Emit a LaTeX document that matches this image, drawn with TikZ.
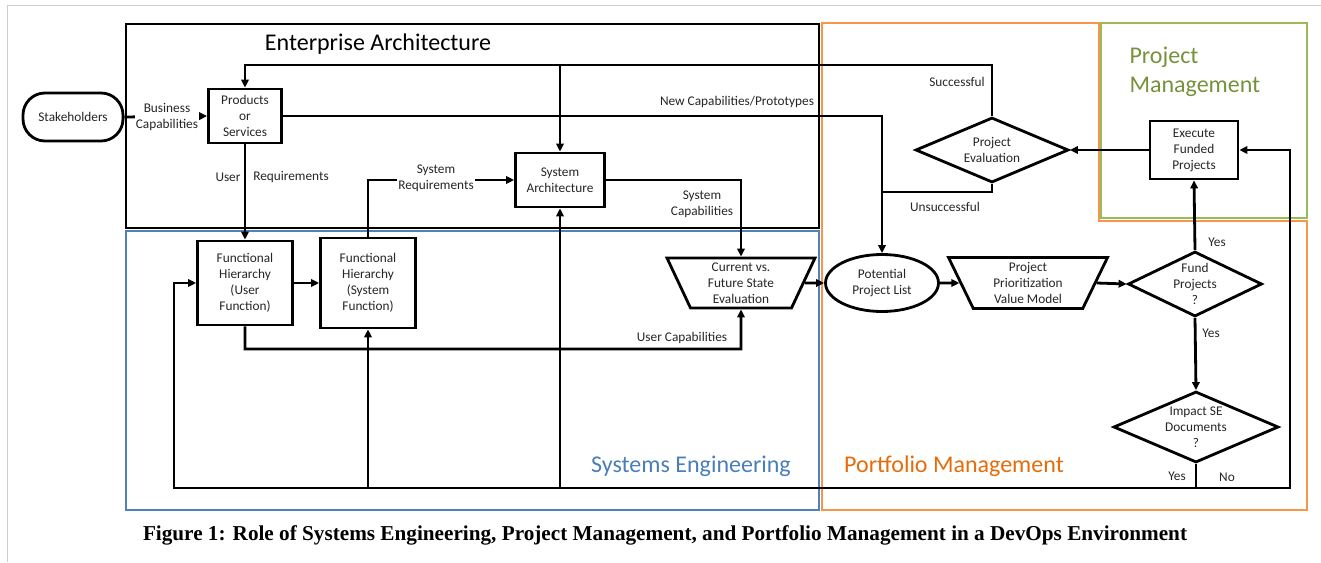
\documentclass[tikz,border=0pt]{standalone}
\usepackage{fontspec}
\setmainfont{Carlito}
\newfontfamily\capfont{Liberation Serif}
\usetikzlibrary{shapes.geometric,arrows.meta}
\definecolor{seblue}{HTML}{4F81BD}
\definecolor{pforange}{HTML}{F79646}
\definecolor{pmgreen}{HTML}{9BBB59}
\definecolor{setext}{HTML}{4A7EBB}
\definecolor{pftext}{HTML}{E46C0A}
\definecolor{pmtext}{HTML}{76923C}
\begin{document}
\begin{tikzpicture}[x=1pt, y=-1pt,
  txt/.style={font=\fontsize{13.3}{16}\selectfont, text=black!85, align=center},
  box/.style={txt, draw, line width=2.8pt, fill=white, inner sep=0pt},
  decision/.style={box, diamond},
  evalbox/.style={box, trapezium, trapezium stretches body, shape border rotate=180},
  flow/.style={line width=2.8pt, -{Triangle[length=8pt,width=7.5pt]}},
  link/.style={line width=2.8pt},
  area/.style={line width=2.8pt},
  areatitle/.style={font=\fontsize{24}{29}\selectfont, align=left}]
\useasboundingbox (0,0) rectangle (1321,562);
\draw[black!20, line width=1pt] (7,562) -- (7,5) -- (1321,5);

% areas
\draw[area] (126,24) rectangle (819,228);
\draw[area, seblue] (126,231) rectangle (819,510);
\draw[area, pforange] (822,23) -- (1099,23) -- (1099,221) -- (1307,221) -- (1307,510) -- (822,510) -- cycle;
\draw[area, pmgreen] (1101,23) rectangle (1307,218);

\node[areatitle, anchor=base] (eatitle) at (378,50) {Enterprise Architecture};
\node[areatitle, text=setext, anchor=base] (setitle) at (691,472) {Systems Engineering};
\node[areatitle, text=pftext, anchor=base] (pftitle) at (954,472) {Portfolio Management};
\node[areatitle, text=pmtext, anchor=west] (pmtitle) at (1126,72) {Project\\Management};

% blocks
\node[box, rounded corners=22pt, minimum width=100pt, minimum height=48pt] (stake) at (73,117) {Stakeholders};
\node[box, minimum width=73pt, minimum height=54pt] (prod) at (245,116) {Products\\or\\Services};
\node[box, minimum width=89pt, minimum height=54pt] (sysarch) at (560,180) {System\\Architecture};
\node[box, minimum width=95pt, minimum height=84pt] (fhu) at (245,283) {Functional\\Hierarchy\\(User\\Function)};
\node[box, minimum width=95pt, minimum height=90pt] (fhs) at (368,283) {Functional\\Hierarchy\\(System\\Function)};
\node[evalbox, trapezium angle=60, minimum width=148pt, minimum height=50pt] (cur) at (741,283) {Current vs.\\Future State\\Evaluation};
\node[box, ellipse, minimum width=113pt, minimum height=57pt] (ppl) at (882,283) {Potential\\Project List};
\node[evalbox, trapezium angle=59, minimum width=159pt, minimum height=51pt] (ppv) at (1028,283) {Project\\Prioritization\\Value Model};
\node[decision, aspect=2.06, minimum width=134pt, minimum height=65pt] (fund) at (1195,284) {Fund\\Projects\\?};
\node[box, minimum width=88pt, minimum height=58pt] (exec) at (1194,150) {Execute\\Funded\\Projects};
\node[decision, aspect=2.35, minimum width=153pt, minimum height=65pt] (peval) at (992,150) {Project\\Evaluation};
\node[decision, aspect=2.32, minimum width=165pt, minimum height=71pt] (impact) at (1196,427) {Impact SE\\Documents\\?};

\coordinate (toploop) at (992,65);
\coordinate (unsucc) at (882,192);
\coordinate (ucap) at (741,349);
\coordinate (fork) at (1196,488);
\coordinate (ret) at (174,488);
\coordinate (nocorner) at (1290,488);

% connectors
\draw[flow] (stake.east) -- (prod.west);
\draw[flow] (peval.north) -- (toploop) -| (prod.north);
\draw[flow] (sysarch.north |- toploop) -- (sysarch.north);
\draw[flow] (prod.east) -| (ppl.north);
\draw[link] (peval.south) |- (unsucc);
\draw[flow] (prod.south) -- (fhu.north);
\draw[flow] (fhu.east) -- (fhs.west);
\draw[flow] (fhs.north) |- (sysarch.west);
\draw[flow] (sysarch.east) -| (cur.north);
\draw[flow] (fhu.south) |- (ucap) -- (cur.south);
\draw[flow] (cur.east) -- (ppl.west);
\draw[flow] (ppl.east) -- (ppv.west);
\draw[flow] (ppv.east) -- (fund.west);
\draw[flow] (fund.north) -- (exec.south);
\draw[flow] (exec.west) -- (peval.east);
\draw[flow] (fund.south) -- (impact.north);
\draw[link] (impact.south) -- (fork);
\draw[flow] (fork) -- (ret) |- (fhu.west);
\draw[flow] (fhs.south |- ret) -- (fhs.south);
\draw[flow] (sysarch.south |- ret) -- (sysarch.south);
\draw[flow] (fork) -- (nocorner) |- (exec.east);

% labels
\node[txt, fill=white, inner sep=1pt] (buscap) at (167,117) {Business\\Capabilities};
\node[txt] (ureq1) at (228,177) {User};
\node[txt] (ureq2) at (291,177) {Requirements};
\node[txt, fill=white, inner sep=1pt] (sysreq) at (436,178) {System\\Requirements};
\node[txt] (syscap) at (702,204) {System\\Capabilities};
\node[txt] (usercap) at (682,338) {User Capabilities};
\node[txt] (newcap) at (737,102) {New Capabilities/Prototypes};
\node[txt] (succ) at (957,82) {Successful};
\node[txt] (unsucclbl) at (945,207) {Unsuccessful};
\node[txt] (yes1) at (1217,242) {Yes};
\node[txt] (yes2) at (1211,333) {Yes};
\node[txt] (yes3) at (1177,476) {Yes};
\node[txt] (no) at (1227,477) {No};

\node[font=\capfont\bfseries\fontsize{21.2}{25}\selectfont] (caption) at (665,535) {Figure 1: Role of Systems Engineering, Project Management, and Portfolio Management in a DevOps Environment};
\end{tikzpicture}
\end{document}
